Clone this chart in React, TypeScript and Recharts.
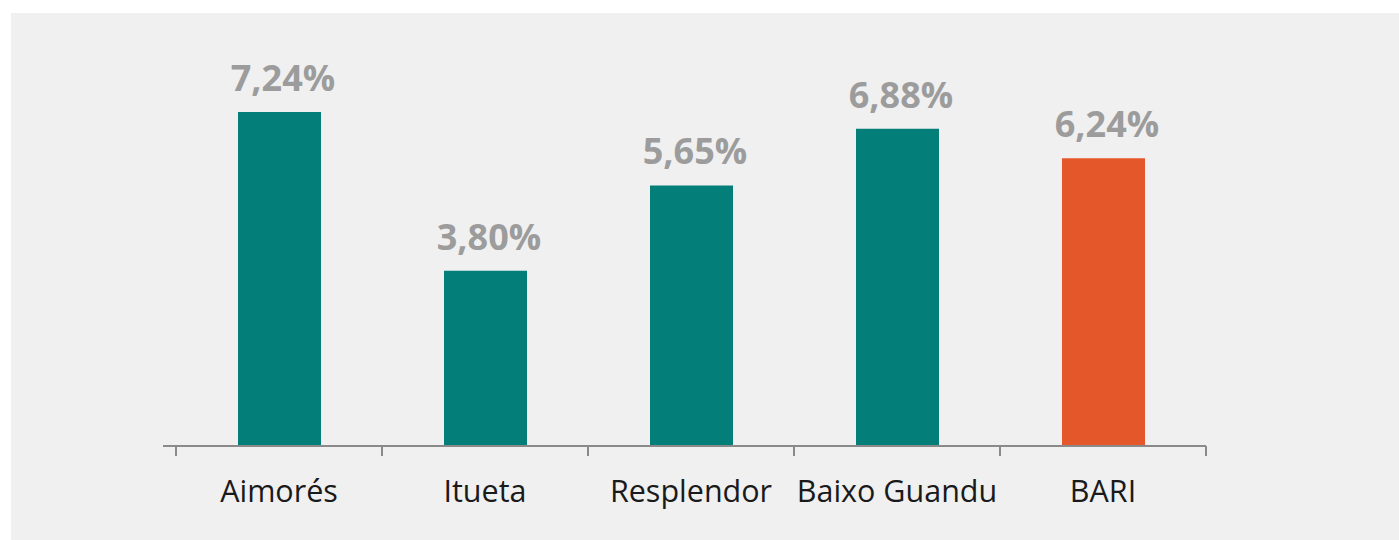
import { Bar, BarChart, Cell, LabelList, XAxis, YAxis } from "recharts";

const categories = ["Aimorés", "Itueta", "Resplendor", "Baixo Guandu", "BARI"];
const values = [7.24, 3.8, 5.65, 6.88, 6.24];
const highlighted = "BARI";

const data = categories.map((name, i) => ({ name, value: values[i] }));

const AXIS_COLOR = "#8a8a8a";

const formatPct = (v: number) => v.toFixed(2).replace(".", ",") + "%";

function CategoryTick(props: any) {
  const { x, y, payload, index } = props;
  const half = payload?.offset || 103;
  const last = index === categories.length - 1;
  return (
    <g>
      <line x1={x - half} x2={x - half} y1={y} y2={y + 10} stroke={AXIS_COLOR} strokeWidth={2} />
      {last && <line x1={x + half} x2={x + half} y1={y} y2={y + 10} stroke={AXIS_COLOR} strokeWidth={2} />}
      <text x={x} y={y + 56} textAnchor="middle" fill="#1a1a1a" fontSize={30.5} fontFamily="Open Sans">
        {payload.value}
      </text>
    </g>
  );
}

export default function App() {
  return (
    <div
      style={{
        position: "absolute",
        left: 11,
        top: 13,
        width: 1388,
        height: 527,
        background: "#f0f0f0",
        fontFamily: "Open Sans",
      }}
    >
      <BarChart width={1388} height={527} data={data} margin={{ top: 64, right: 193, bottom: 0, left: 152 }}>
        <XAxis
          dataKey="name"
          height={94}
          padding={{ left: 13, right: 0 }}
          axisLine={{ stroke: AXIS_COLOR, strokeWidth: 2 }}
          tickLine={false}
          tickSize={0}
          tickMargin={0}
          interval={0}
          tick={<CategoryTick />}
        />
        <YAxis hide domain={[0, 8]} />
        <Bar dataKey="value" barSize={83} isAnimationActive={false}>
          {data.map((d) => (
            <Cell key={d.name} fill={d.name === highlighted ? "#e4572a" : "#047e78"} />
          ))}
          <LabelList
            dataKey="value"
            position="top"
            offset={21}
            dx={3.5}
            formatter={(v: any) => formatPct(Number(v))}
            fill="#9c9c9c"
            fontSize={36}
            fontWeight={700}
            fontFamily="Open Sans"
          />
        </Bar>
      </BarChart>
    </div>
  );
}
